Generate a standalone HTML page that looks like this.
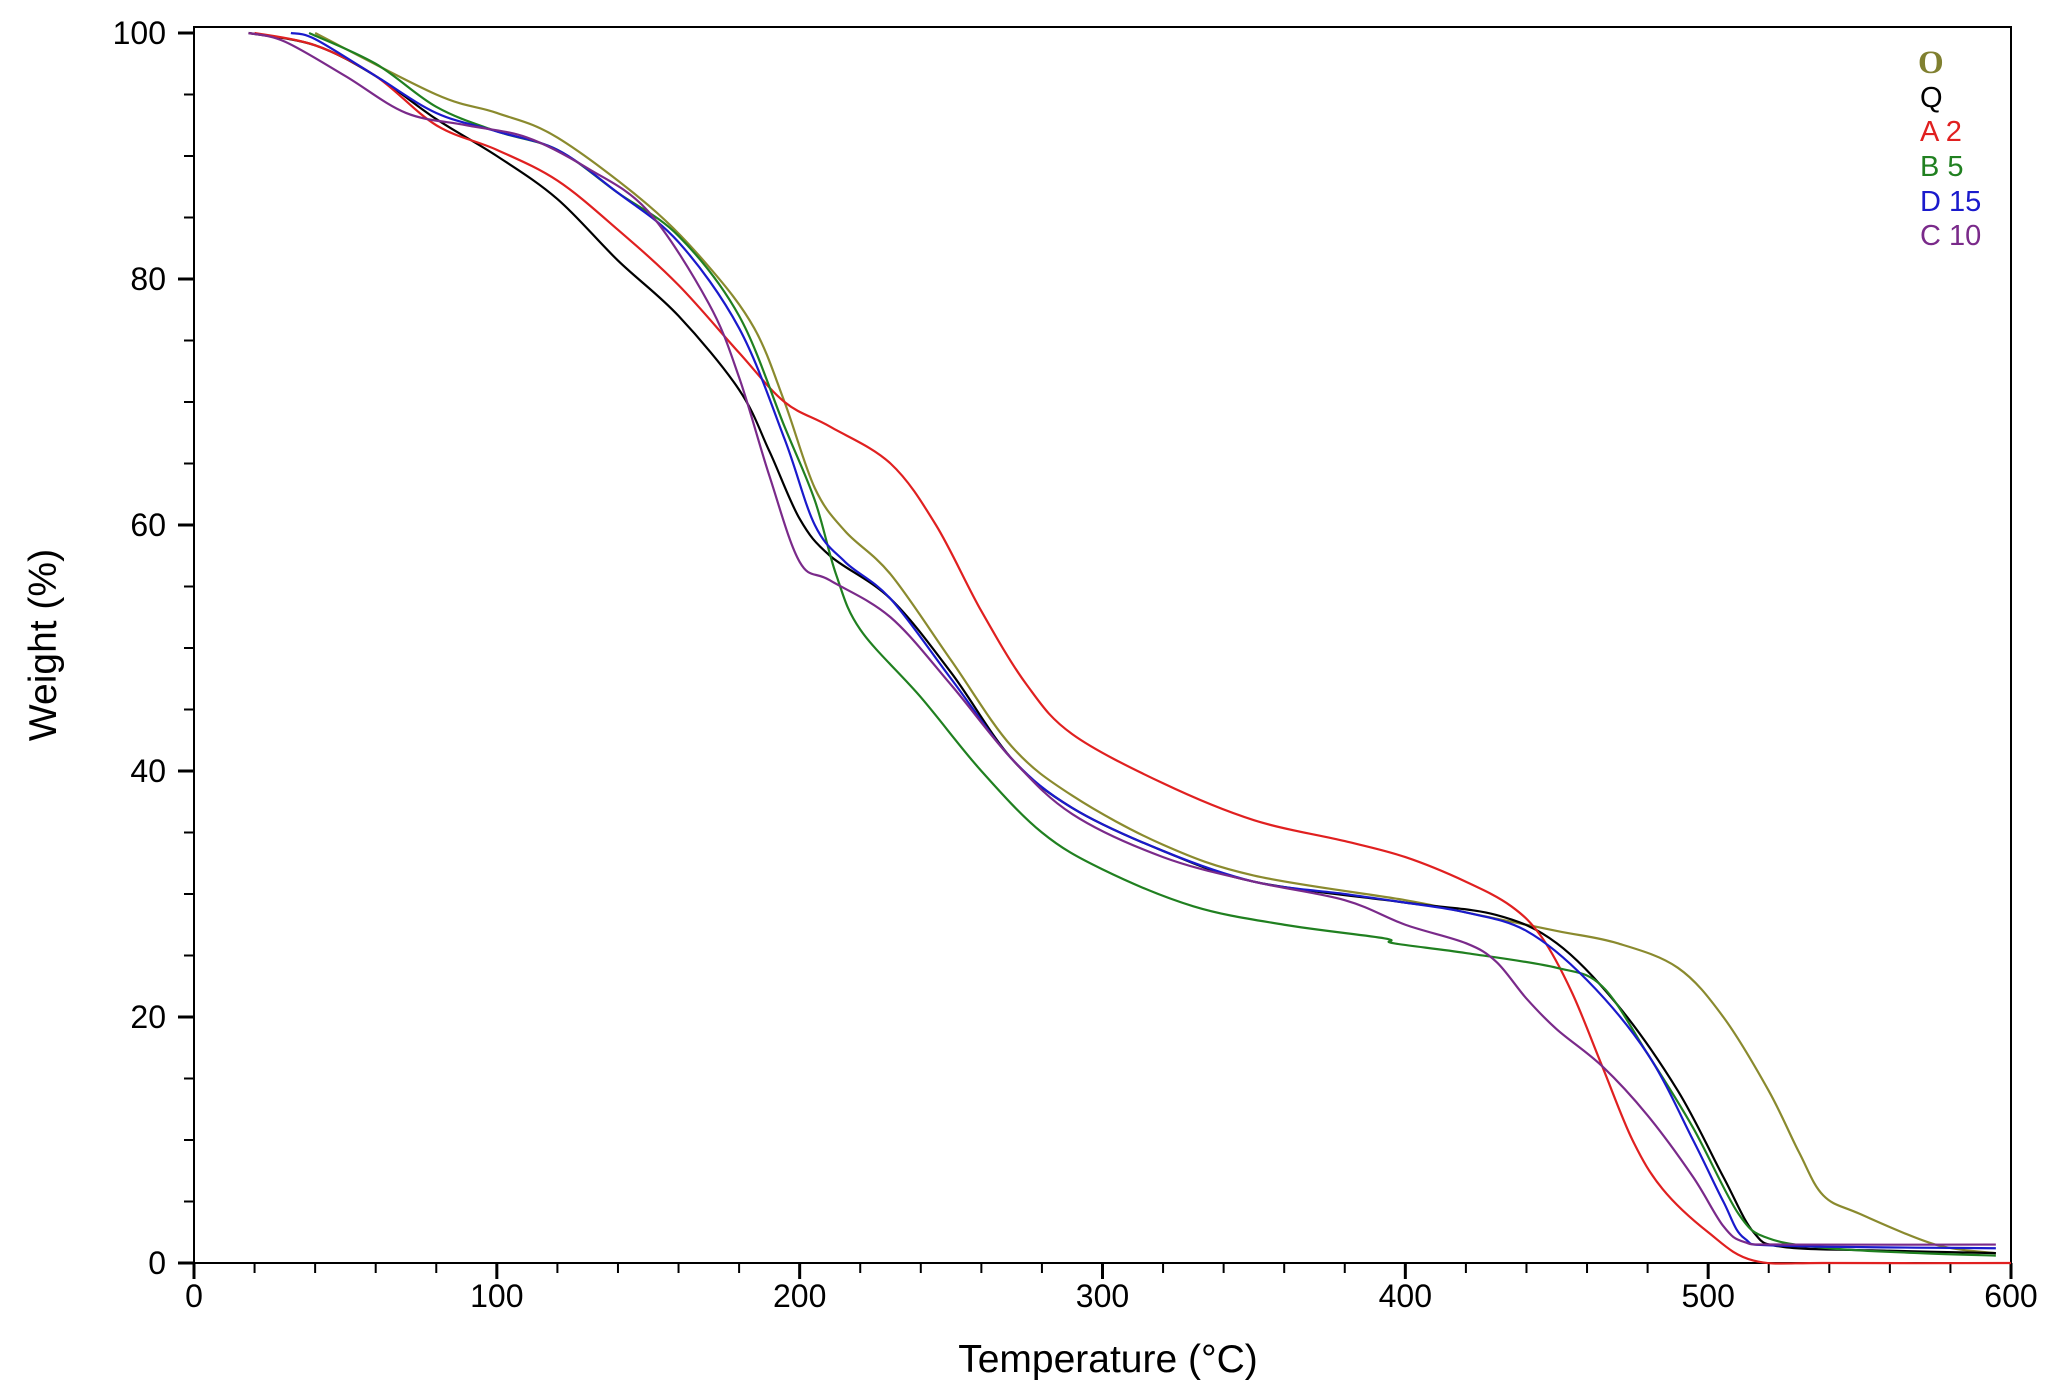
<!DOCTYPE html>
<html><head><meta charset="utf-8"><style>
body{margin:0;background:#fff}
svg{display:block;font-family:"Liberation Sans",Arial,sans-serif}
</style></head><body>
<svg id="chart" width="2059" height="1393" viewBox="0 0 2059 1393">
<rect x="194" y="27" width="1817" height="1236" fill="#fff" stroke="#000" stroke-width="2"/>
<g id="axes"></g>
<g id="series"></g>
<text x="1108" y="1372" font-size="39" text-anchor="middle">Temperature (°C)</text>
<text transform="translate(56,645) rotate(-90)" font-size="39" text-anchor="middle">Weight (%)</text>
<g font-size="29">
<text x="1918" y="73" fill="#808030" font-family="Liberation Serif,serif" font-weight="bold" font-size="33">O</text>
<text x="1920" y="107" fill="#000">Q</text>
<text x="1920" y="141" fill="#e02020">A 2</text>
<text x="1920" y="176" fill="#208020">B 5</text>
<text x="1920" y="211" fill="#1a1acc">D 15</text>
<text x="1920" y="245" fill="#7a2a8a">C 10</text>
</g>
</svg>
<script>
const xTicks=[0,100,200,300,400,500,600];
const yTicks=[0,20,40,60,80,100];
const tO=[40,80,100,120,150,170,185,195,205,215,230,250,270,290,320,350,400,420,450,470,490,505,520,530,538,550,575,595];
const wO=[100,95,93.5,91.5,86,81,76,70,63,59.5,56,49,42,38,34,31.5,29.5,28.5,27,26,24,20,14,9,5.5,4,1.5,0.8];
const tQ=[18,40,60,80,100,120,140,160,180,190,200,210,230,250,270,290,320,350,400,430,450,470,490,505,515,525,560,595];
const wQ=[100,99,96.5,93,90,86.5,81.5,77,71,66,60.5,57.5,54,48,41,37,33.5,31,29.3,28.3,26,21,14,7,2.5,1.3,1,0.8];
const tA=[20,40,60,80,100,120,140,160,180,195,210,230,245,260,275,290,320,350,380,400,420,435,445,455,465,475,485,500,515,540,600];
const wA=[100,99,96.5,92.5,90.5,88,84,79.5,74,70,68,65,60,53,47,43,39,36,34.3,33,31,29,26.5,22,16,10,6,2.5,0.2,0,0];
const tB=[38,60,80,100,120,140,160,180,195,205,212,220,240,260,280,300,330,360,393,396,420,450,465,480,495,510,520,540,570,595];
const wB=[100,97.5,94,92,90.5,87,83.5,77,68,62,56,51.5,46,40,35,32,29,27.5,26.4,26,25.2,24,22.5,17,11,4,2,1.2,0.8,0.6];
const tD=[32,40,60,80,100,120,140,160,180,195,205,215,230,250,270,290,320,350,380,400,420,440,460,480,495,505,512,525,595];
const wD=[100,99.5,96.5,93.5,92,90.5,87,83,76,67,60,57,54,47.5,41,37,33.5,31,30,29.3,28.5,27,23,17,10,5,2,1.4,1.2];
const tC=[18,30,50,70,90,110,130,150,170,180,190,200,210,230,250,270,290,320,350,380,400,420,430,440,450,465,480,495,505,512,525,595];
const wC=[100,99.3,96.5,93.5,92.5,91.5,89,85.5,78,72,64,57,55.5,52.5,47,41,36.5,33,31,29.5,27.5,26,24.5,21.5,19,16,12,7,3,1.7,1.5,1.5];
const X=t=>194+t*(2011-194)/600;
const Y=w=>1263-w*(1263-33)/100;
const NS="http://www.w3.org/2000/svg";
const axes=document.getElementById('axes');
function ln(x1,y1,x2,y2,w){const l=document.createElementNS(NS,'line');l.setAttribute('x1',x1);l.setAttribute('y1',y1);l.setAttribute('x2',x2);l.setAttribute('y2',y2);l.setAttribute('stroke','#000');l.setAttribute('stroke-width',w);axes.appendChild(l);return l;}
for(let t=0;t<=600;t+=20){const maj=t%100===0;const l=ln(X(t),1263,X(t),1263+(maj?16:10),maj?3:2);

}
for(let w=0;w<=100;w+=5){const maj=w%20===0;const l=ln(194,Y(w),194-(maj?16:10),Y(w),maj?3:2);

}
xTicks.forEach(t=>{const e=document.createElementNS(NS,'text');e.setAttribute('x',X(t));e.setAttribute('y',1307);e.setAttribute('font-size','32');e.setAttribute('text-anchor','middle');e.textContent=t;


axes.appendChild(e);});
yTicks.forEach(w=>{const e=document.createElementNS(NS,'text');e.setAttribute('x',166);e.setAttribute('y',Y(w)+11);e.setAttribute('font-size','32');e.setAttribute('text-anchor','end');e.textContent=w;


axes.appendChild(e);});
function path(ts,ws){const p=ts.map((t,i)=>[X(t),Y(ws[i])]);let d='M'+p[0][0]+','+p[0][1];
for(let i=0;i<p.length-1;i++){const p0=p[Math.max(0,i-1)],p1=p[i],p2=p[i+1],p3=p[Math.min(p.length-1,i+2)];
const c1=[p1[0]+(p2[0]-p0[0])/6,p1[1]+(p2[1]-p0[1])/6],c2=[p2[0]-(p3[0]-p1[0])/6,p2[1]-(p3[1]-p1[1])/6];
d+=` C${c1[0]},${c1[1]} ${c2[0]},${c2[1]} ${p2[0]},${p2[1]}`;}return d;}
const g=document.getElementById('series');
[[tO,wO,'#8a8a2e','series-o'],[tQ,wQ,'#000','series-q'],[tA,wA,'#e02020','series-a2'],[tB,wB,'#208020','series-b5'],[tD,wD,'#1a1acc','series-d15'],[tC,wC,'#7a2a8a','series-c10']].forEach(s=>{
const e=document.createElementNS(NS,'path');e.setAttribute('d',path(s[0],s[1]));e.setAttribute('fill','none');e.setAttribute('stroke',s[2]);e.setAttribute('stroke-width','2.2');


g.appendChild(e);});
</script>
</body></html>
